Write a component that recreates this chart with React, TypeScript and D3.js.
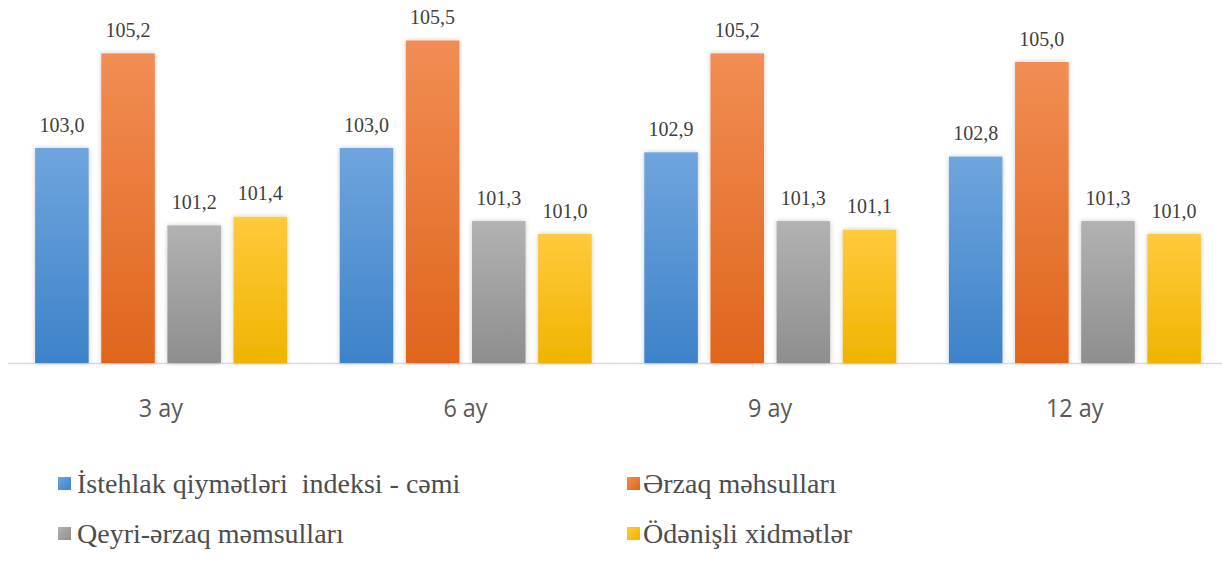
import React from "react";
import * as d3 from "d3";

const categories = ["3 ay", "6 ay", "9 ay", "12 ay"];
const seriesNames = [
  "İstehlak qiymətləri  indeksi - cəmi",
  "Ərzaq məhsulları",
  "Qeyri-ərzaq məmsulları",
  "Ödənişli xidmətlər",
];
const cpiTotal = [103.0, 103.0, 102.9, 102.8];
const food = [105.2, 105.5, 105.2, 105.0];
const nonFood = [101.2, 101.3, 101.3, 101.3];
const services = [101.4, 101.0, 101.1, 101.0];
const yDomain = [98, 106];

const seriesValues = [cpiTotal, food, nonFood, services];
const colors = [
  ["#6fa5de", "#3d82c9"],
  ["#f28d54", "#e0651c"],
  ["#b2b2b2", "#8e8e8e"],
  ["#ffca3c", "#f0b400"],
];

const W = 1222;
const H = 563;
const baseY = 363;
const topY = 19;

export default function App() {
  const x0 = d3.scaleBand<string>().domain(categories).range([8.6, 1227]).paddingInner(0).paddingOuter(0);
  const x1 = d3
    .scaleBand<number>()
    .domain([0, 1, 2, 3])
    .range([26.5, 278.5])
    .paddingInner(0.19)
    .paddingOuter(0);
  const y = d3.scaleLinear().domain(yDomain).range([baseY, topY]);
  const fmt = (v: number) => d3.format(".1f")(v).replace(".", ",");

  const legendPos = [
    { mx: 58, tx: 77, ty: 493 },
    { mx: 627, tx: 643, ty: 493 },
    { mx: 58, tx: 77, ty: 543 },
    { mx: 627, tx: 643, ty: 543 },
  ];

  return (
    <svg
      width={W}
      height={H}
      viewBox={`0 0 ${W} ${H}`}
      fontFamily="Times New Roman"
      style={{ position: "absolute", left: 0, top: 0, background: "#fff", fontFamily: "Times New Roman" }}
    >
      <defs>
        {colors.map((c, i) => (
          <linearGradient key={i} id={`g${i}`} x1="0" y1="0" x2="0" y2="1">
            <stop offset="0" stopColor={c[0]} />
            <stop offset="1" stopColor={c[1]} />
          </linearGradient>
        ))}
        {colors.map((c, i) => (
          <linearGradient key={"l" + i} id={`lg${i}`} x1="0" y1="0" x2="1" y2="1">
            <stop offset="0" stopColor={c[0]} />
            <stop offset="1" stopColor={c[1]} />
          </linearGradient>
        ))}
        <filter id="sh" x="-20%" y="-10%" width="140%" height="120%">
          <feGaussianBlur in="SourceAlpha" stdDeviation="2.5" />
          <feComponentTransfer>
            <feFuncA type="linear" slope="0.22" />
          </feComponentTransfer>
          <feMerge>
            <feMergeNode />
            <feMergeNode in="SourceGraphic" />
          </feMerge>
        </filter>
      </defs>

      <line x1={8} x2={1222} y1={baseY + 0.5} y2={baseY + 0.5} stroke="#d9d9d9" strokeWidth={1.5} />

      {categories.map((cat, ci) => (
        <g key={cat} transform={`translate(${x0(cat)},0)`}>
          {seriesValues.map((vals, si) => {
            const v = vals[ci];
            const bx = x1(si)!;
            const bw = x1.bandwidth();
            return (
              <g key={si}>
                <rect
                  x={bx}
                  y={y(v)}
                  width={bw}
                  height={baseY - y(v)}
                  fill={`url(#g${si})`}
                  filter="url(#sh)"
                />
                <text
                  x={bx + bw / 2}
                  y={y(v) - 16.5}
                  textAnchor="middle"
                  fontSize={20}
                  fill="#404040"
                >
                  {fmt(v)}
                </text>
              </g>
            );
          })}
          <text
            transform={`translate(${x0.bandwidth() / 2},417) scale(0.9,1)`}
            textAnchor="middle"
            fontSize={26}
            style={{ fontFamily: "Open Sans" }}
            fill="#595959"
          >
            {cat}
          </text>
        </g>
      ))}

      {seriesNames.map((name, i) => {
        const p = legendPos[i];
        return (
          <g key={name}>
            <rect x={p.mx} y={p.ty - 16} width={13} height={13} fill={`url(#lg${i})`} />
            <text
              x={p.tx}
              y={p.ty}
              fontSize={28}
              style={{ whiteSpace: "pre" }}
              fill="#4d4d4d"
            >
              {name}
            </text>
          </g>
        );
      })}
    </svg>
  );
}
